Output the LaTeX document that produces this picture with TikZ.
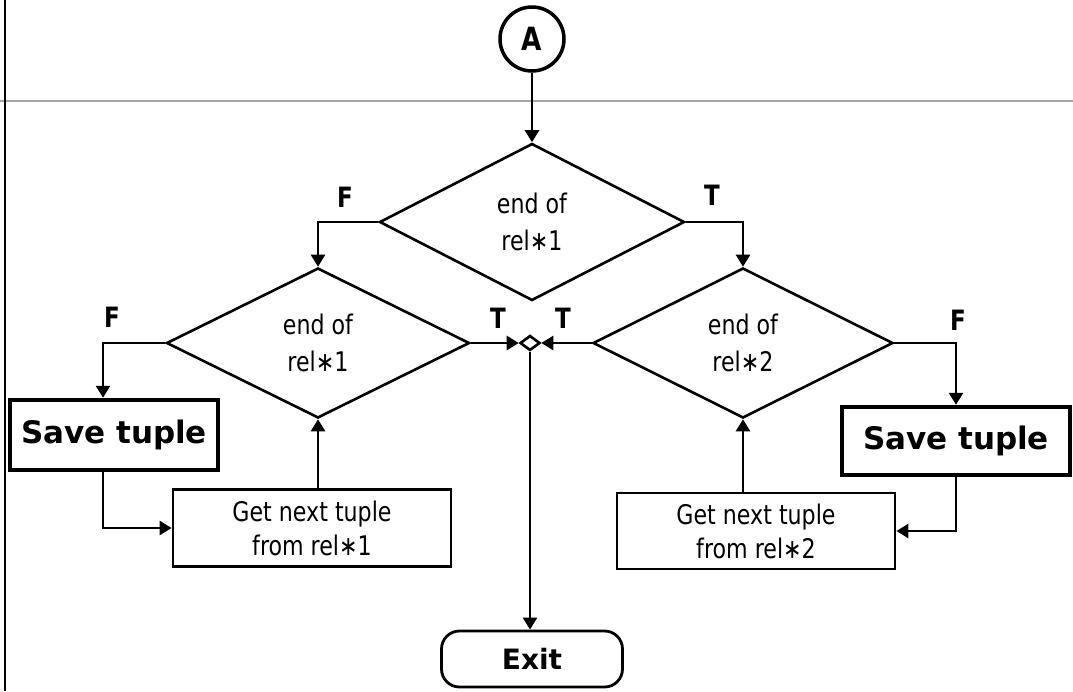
\documentclass[tikz,border=0pt]{standalone}
\usepackage{fontspec}
\setmainfont{DejaVu Sans}
\newfontfamily\narrowfont{DejaVu Sans}[FakeStretch=0.82]
\usetikzlibrary{shapes.geometric,arrows.meta}
\begin{document}
\begin{tikzpicture}[x=1pt,y=-1pt,
  line width=2.6pt,
  arr/.style={-{Triangle[length=12pt,width=14pt]}},
  decision/.style={draw, diamond, inner sep=0pt, align=center,
    font=\narrowfont\fontsize{27}{37}\selectfont},
  process/.style={draw, rectangle, inner sep=0pt, align=center, line width=2.8pt,
    font=\narrowfont\fontsize{27}{34}\selectfont},
  savebox/.style={draw, rectangle, inner sep=0pt, line width=4.5pt,
    font=\bfseries\fontsize{31}{36}\selectfont},
  branch/.style={font=\bfseries\narrowfont\fontsize{28}{30}\selectfont},
]
\useasboundingbox (0,0) rectangle (1073,691);
\fill[white] (0,0) rectangle (1073,691);

% page rules
\draw[line width=2pt, gray!70] (0,101) -- (1073,101);
\draw[line width=1.5pt] (5,0) -- (5,691);

% connector circle
\node[draw, circle, minimum size=64pt, inner sep=0pt, line width=3.5pt,
  font=\bfseries\narrowfont\fontsize{32}{34}\selectfont] (A) at (532,39) {A};

% decisions
\node[decision, minimum width=305pt, minimum height=157pt] (d1) at (532,222) {end of\\rel∗1};
\node[decision, minimum width=303pt, minimum height=150pt] (d2) at (318,343) {end of\\rel∗1};
\node[decision, minimum width=300pt, minimum height=150pt] (d3) at (743,343) {end of\\rel∗2};

% junction
\node[draw, diamond, inner sep=0pt, minimum width=20pt, minimum height=15pt] (j) at (530,343) {};

% process boxes
\node[savebox, minimum width=208pt, minimum height=70pt] (s1) at (114,435) {Save tuple};
\node[savebox, minimum width=228pt, minimum height=68pt] (s2) at (956,441) {Save tuple};
\node[process, minimum width=278pt, minimum height=77pt] (g1) at (312,528) {Get next tuple\\from rel∗1};
\node[process, minimum width=278pt, minimum height=76pt] (g2) at (756,531) {Get next tuple\\from rel∗2};

% terminal
\node[draw, rounded corners=18pt, minimum width=181pt, minimum height=56pt, line width=2.8pt,
  font=\bfseries\fontsize{28}{30}\selectfont] (ex) at (532,659) {Exit};

% branch labels
\node[branch] (lf1) at (345,197) {F};
\node[branch] (lt1) at (712,195) {T};
\node[branch] (lf2) at (112,317) {F};
\node[branch] (lt2) at (498,318) {T};
\node[branch] (lt3) at (563,318) {T};
\node[branch] (lf3) at (958,320) {F};

% flow
\draw[arr] (A) -- (d1);
\draw[arr] (d1.west) -| (d2.north);
\draw[arr] (d1.east) -| (d3.north);
\draw[arr] (d2.west) -| ([xshift=-11pt]s1.north);
\draw[arr] (d3.east) -| (s2.north);
\draw[arr] ([xshift=-11pt]s1.south) |- (g1.west);
\draw[arr] (s2.south) |- (g2.east);
\draw[arr] (g1.north -| d2.south) -- (d2.south);
\draw[arr] (g2.north -| d3.south) -- (d3.south);
\draw[arr] (d2.east) -- (j.west);
\draw[arr] (d3.west) -- (j.east);
\draw[arr] (j.south) -- (j.south |- ex.north);
\end{tikzpicture}
\end{document}
